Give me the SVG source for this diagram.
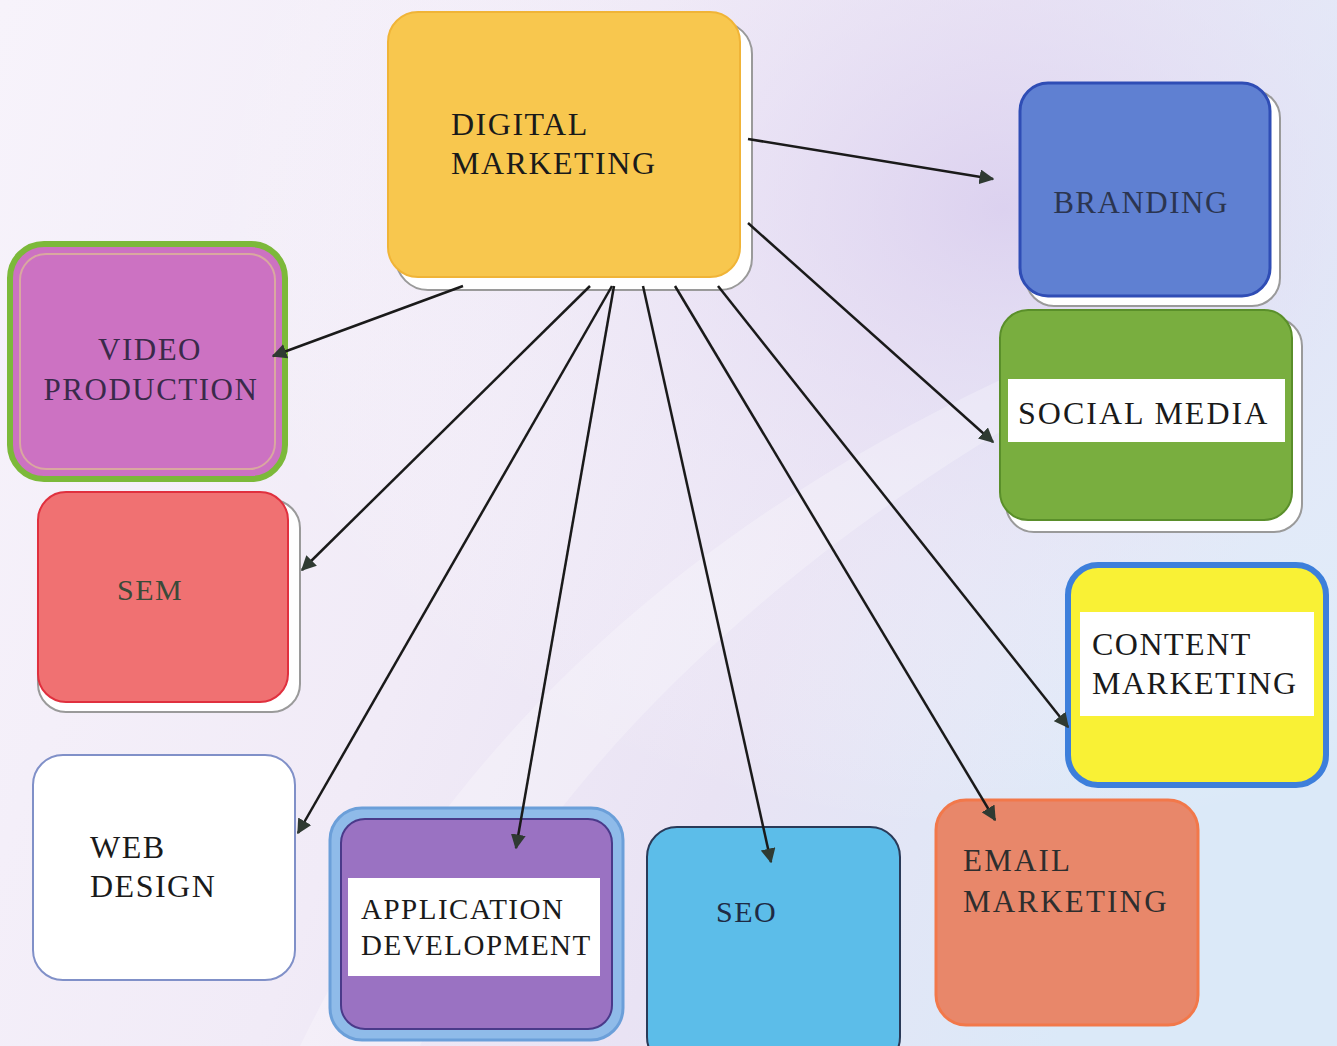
<svg xmlns="http://www.w3.org/2000/svg" width="1337" height="1046" viewBox="0 0 1337 1046">
<defs>
<linearGradient id="bg" x1="0" y1="0" x2="1" y2="0.3">
<stop offset="0" stop-color="#f7f3fb"/>
<stop offset="0.45" stop-color="#f1ebf7"/>
<stop offset="0.7" stop-color="#e9e3f4"/>
<stop offset="1" stop-color="#dbe9f8"/>
</linearGradient>
<radialGradient id="sweep" cx="0.75" cy="0.2" r="0.6">
<stop offset="0" stop-color="#d9cdee" stop-opacity="0.8"/>
<stop offset="1" stop-color="#ffffff" stop-opacity="0"/>
</radialGradient>
<marker id="ah" viewBox="0 0 10 10" refX="9" refY="5" markerWidth="6" markerHeight="6" orient="auto-start-reverse" markerUnits="strokeWidth">
<path d="M0,0 L10,5 L0,10 z" fill="#2f3a32"/>
</marker>
<style>
.lbl{font-family:"Liberation Serif","Times New Roman",serif;font-size:32px;fill:#1a1a1a;letter-spacing:1.5px}
.conn{stroke:#1a1a1a;stroke-width:2.5;fill:none;marker-end:url(#ah)}
.sh{fill:#ffffff;stroke:#9a9a9a;stroke-width:2}
.band{fill:#ffffff}
</style>
</defs>
<rect width="1337" height="1046" fill="url(#bg)"/>
<rect width="1337" height="1046" fill="url(#sweep)"/>
<path d="M300,1046 C420,800 620,560 1000,380 L1090,380 C760,560 520,800 420,1046 Z" fill="#ffffff" opacity="0.25"/>

<g id="digital-marketing">
<rect class="sh" x="396" y="22" width="356" height="268" rx="32"/>
<rect x="388" y="12" width="352" height="265" rx="30" fill="#f8c74e" stroke="#f0b437" stroke-width="2"/>
<text class="lbl" x="451" y="135">DIGITAL</text>
<text class="lbl" x="451" y="174">MARKETING</text>
</g>

<g id="branding">
<rect class="sh" x="1026" y="90" width="254" height="216" rx="28"/>
<rect x="1020" y="83" width="250" height="213" rx="28" fill="#5f80d2" stroke="#2f4db5" stroke-width="3"/>
<text class="lbl" x="1141" y="213" text-anchor="middle" style="fill:#2b3550;font-size:31px">BRANDING</text>
</g>

<g id="social-media">
<rect class="sh" x="1006" y="318" width="296" height="214" rx="28"/>
<rect x="1000" y="310" width="292" height="210" rx="28" fill="#79ae3f" stroke="#5a8f2a" stroke-width="2"/>
<rect class="band" x="1008" y="379" width="277" height="63"/>
<text class="lbl" x="1018" y="424" style="letter-spacing:2px">SOCIAL MEDIA</text>
</g>

<g id="content-marketing">
<rect x="1068" y="565" width="258" height="220" rx="30" fill="#f9f135" stroke="#3d7fdb" stroke-width="6"/>
<rect class="band" x="1080" y="612" width="234" height="104"/>
<text class="lbl" x="1092" y="655">CONTENT</text>
<text class="lbl" x="1092" y="694">MARKETING</text>
</g>

<g id="email-marketing">
<rect x="936" y="800" width="262" height="225" rx="30" fill="#e8876a" stroke="#f2784a" stroke-width="3"/>
<text class="lbl" x="963" y="871" style="fill:#2e2e2e;font-size:31px;letter-spacing:2.2px">EMAIL</text>
<text class="lbl" x="963" y="912" style="fill:#2e2e2e;font-size:31px;letter-spacing:2.2px">MARKETING</text>
</g>

<g id="seo">
<rect x="647" y="827" width="253" height="240" rx="30" fill="#5cbde9" stroke="#2a3a58" stroke-width="2"/>
<text class="lbl" x="716" y="922" style="fill:#1e2a44;font-size:30px">SEO</text>
</g>

<g id="application-development">
<rect x="330" y="808" width="293" height="232" rx="32" fill="#8fbbe9" stroke="#6b9fd9" stroke-width="3"/>
<rect x="341" y="819" width="271" height="210" rx="24" fill="#9a72c2" stroke="#4a3a8a" stroke-width="2"/>
<rect class="band" x="348" y="878" width="252" height="98"/>
<text class="lbl" x="361" y="919" style="font-size:29px">APPLICATION</text>
<text class="lbl" x="361" y="955" style="font-size:29px">DEVELOPMENT</text>
</g>

<g id="web-design">
<rect x="33" y="755" width="262" height="225" rx="30" fill="#ffffff" stroke="#8090c8" stroke-width="2"/>
<text class="lbl" x="90" y="858">WEB</text>
<text class="lbl" x="90" y="897">DESIGN</text>
</g>

<g id="sem">
<rect class="sh" x="38" y="500" width="262" height="212" rx="28"/>
<rect x="38" y="492" width="250" height="210" rx="28" fill="#f07172" stroke="#e0303e" stroke-width="2"/>
<text class="lbl" x="117" y="600" style="fill:#3a4a3a;font-size:30px">SEM</text>
</g>

<g id="video-production">
<rect x="10" y="244" width="275" height="235" rx="34" fill="#cc72c2" stroke="#7cb93a" stroke-width="6"/>
<rect x="20" y="254" width="255" height="215" rx="26" fill="none" stroke="#d9a8a0" stroke-width="2"/>
<text class="lbl" x="150" y="360" text-anchor="middle" style="fill:#3a2a4a;font-size:31px">VIDEO</text>
<text class="lbl" x="151" y="400" text-anchor="middle" style="fill:#3a2a4a;font-size:31px">PRODUCTION</text>
</g>

<g id="connectors">
<line class="conn" x1="748" y1="139" x2="993" y2="179"/>
<line class="conn" x1="748" y1="223" x2="993" y2="442"/>
<line class="conn" x1="463" y1="286" x2="273" y2="356"/>
<line class="conn" x1="590" y1="286" x2="302" y2="570"/>
<line class="conn" x1="612" y1="286" x2="298" y2="833"/>
<line class="conn" x1="614" y1="286" x2="516" y2="848"/>
<line class="conn" x1="643" y1="286" x2="771" y2="862"/>
<line class="conn" x1="675" y1="286" x2="995" y2="820"/>
<line class="conn" x1="718" y1="286" x2="1068" y2="727"/>
</g>
</svg>
